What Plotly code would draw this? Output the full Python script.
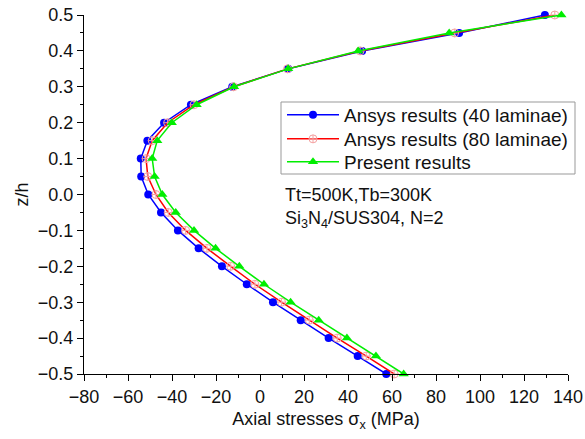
import plotly.graph_objects as go

z = [0.5, 0.45, 0.4, 0.35, 0.3, 0.25, 0.2, 0.15, 0.1, 0.05, 0.0,
     -0.05, -0.1, -0.15, -0.2, -0.25, -0.3, -0.35, -0.4, -0.45, -0.5]

ansys40 = [129.5, 90.5, 46.4, 12.8, -12.6, -31.4, -43.6, -51.2, -54.2, -54.0, -50.8,
           -45.0, -37.3, -27.9, -17.3, -6.0, 5.9, 18.5, 31.2, 44.4, 57.4]
ansys80 = [134.0, 88.5, 45.5, 12.5, -12.0, -30.0, -42.0, -49.0, -51.8, -51.0, -47.3,
           -41.7, -33.8, -24.1, -13.3, -2.3, 9.8, 22.4, 35.1, 48.3, 61.0]
present = [137.0, 86.0, 44.6, 12.8, -11.8, -28.8, -40.1, -46.7, -49.0, -47.9, -44.4,
           -38.3, -30.0, -20.2, -9.4, 1.8, 13.9, 26.7, 39.5, 52.7, 65.3]

names = ["Ansys results (40 laminae)", "Ansys results (80 laminae)", "Present results"]

FONT = "Liberation Sans, Arial, sans-serif"

# plot area in pixels: x 84..568, y 15..374
def px_x(p):
    return (p - 84) / 484.0

def px_y(p):
    return (374 - p) / 359.0

fig = go.Figure()
fig.add_trace(go.Scatter(
    x=ansys40, y=z, name=names[0], mode="lines+markers", cliponaxis=False,
    legend="legend",
    line=dict(color="#0000ff", width=1.5),
    marker=dict(symbol="circle", size=8, color="#0000ff")))
fig.add_trace(go.Scatter(
    x=ansys80, y=z, name=names[1], mode="lines+markers", cliponaxis=False,
    legend="legend2",
    line=dict(color="#ff0000", width=1.5),
    marker=dict(symbol="circle-cross-open", size=8, color="#f4a0a0",
                line=dict(width=1, color="#f4a0a0"))))
fig.add_trace(go.Scatter(
    x=present, y=z, name=names[2], mode="lines+markers", cliponaxis=False,
    legend="legend3",
    line=dict(color="#00ee00", width=1.5),
    marker=dict(symbol="triangle-up", size=9, color="#00ee00")))

leg_common = dict(xanchor="left", yanchor="middle", borderwidth=0,
                  bgcolor="rgba(0,0,0,0)", font=dict(size=19, family=FONT, color="#111111"),
                  itemwidth=52)

fig.update_layout(
    width=585, height=439,
    margin=dict(l=84, r=17, t=15, b=65),
    plot_bgcolor="white", paper_bgcolor="white",
    font=dict(family=FONT, size=18, color="#111111"),
    showlegend=True,
    legend=dict(x=px_x(282), y=px_y(115), **leg_common),
    legend2=dict(x=px_x(282), y=px_y(139), **leg_common),
    legend3=dict(x=px_x(282), y=px_y(162), **leg_common),
    xaxis=dict(range=[-80, 140], tickvals=list(range(-80, 141, 20)),
               showline=True, linecolor="black", linewidth=1.2,
               ticks="outside", ticklen=6, tickwidth=1.2, tickcolor="black",
               minor=dict(dtick=10, ticks="outside", ticklen=3, tickcolor="black"),
               showgrid=False, zeroline=False, mirror=False, automargin=False,
               tickfont=dict(size=18),
               title=dict(text="Axial stresses σ<sub>x</sub> (MPa)", font=dict(size=18), standoff=6)),
    yaxis=dict(range=[-0.5, 0.5], dtick=0.1, tickformat=".1f",
               showline=True, linecolor="black", linewidth=1.2,
               ticks="outside", ticklen=6, tickwidth=1.2, tickcolor="black",
               minor=dict(dtick=0.05, ticks="outside", ticklen=3, tickcolor="black"),
               showgrid=False, zeroline=False, mirror=False, automargin=False,
               tickfont=dict(size=18),
               title=dict(text="z/h", font=dict(size=18), standoff=4)),
)

# legend frame
fig.add_shape(type="rect", xref="paper", yref="paper",
              x0=px_x(281), x1=px_x(575), y0=px_y(174), y1=px_y(102),
              line=dict(color="#999999", width=1), fillcolor="white", layer="below")

fig.add_annotation(x=px_x(283), y=px_y(195), xref="paper", yref="paper",
                   text="Tt=500K,Tb=300K", showarrow=False,
                   xanchor="left", yanchor="middle", font=dict(size=18))
fig.add_annotation(x=px_x(283), y=px_y(219), xref="paper", yref="paper",
                   text="Si<sub>3</sub>N<sub>4</sub>/SUS304, N=2", showarrow=False,
                   xanchor="left", yanchor="middle", font=dict(size=18))

fig.write_html("out.html")
